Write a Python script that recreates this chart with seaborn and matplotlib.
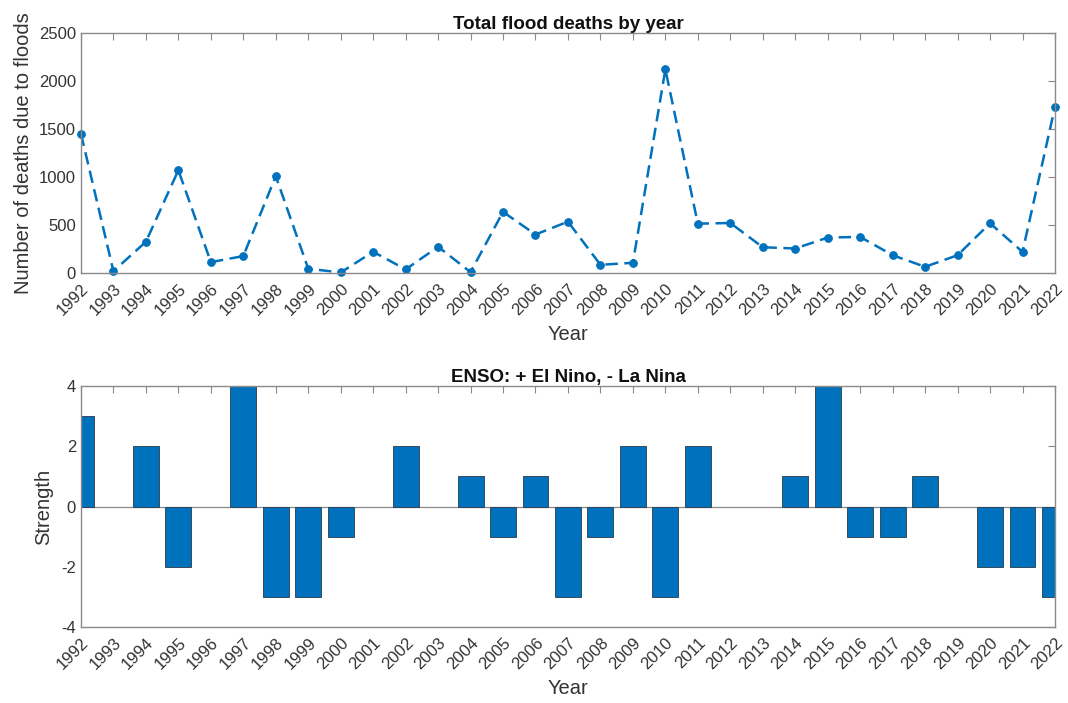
import numpy as np
import pandas as pd
import matplotlib
matplotlib.use('Agg')
import matplotlib.pyplot as plt
import seaborn as sns

YEARS = list(range(1992, 2023))

DEATHS = [1450, 17, 323, 1069, 111, 174, 1007, 42, 3, 219, 35, 271, 7, 635, 399,
          533, 83, 104, 2121, 512, 519, 266, 253, 367, 374, 183, 62, 183, 516, 218, 1730]

ENSO = [3, 0, 2, -2, 0, 4, -3, -3, -1, 0, 2, 0, 1, -1, 1,
        -3, -1, 2, -3, 2, 0, 0, 1, 4, -1, -1, 1, 0, -2, -2, -3]

BLUE = '#0072BD'
AXCOL = '#8a8a8a'
TXT = '#333333'

sns.set_style('white')
plt.rcParams['font.family'] = ['Liberation Sans', 'DejaVu Sans']
plt.rcParams['axes.unicode_minus'] = False

df = pd.DataFrame({'Year': YEARS, 'Deaths': DEATHS, 'ENSO': ENSO})


def style_axes(ax):
    for s in ax.spines.values():
        s.set_color(AXCOL)
        s.set_linewidth(1.0)
    ax.tick_params(direction='in', top=True, right=True, length=5, width=0.8,
                   color=AXCOL, labelcolor=TXT, labelsize=12)
    ax.tick_params(axis='x', pad=6)
    ax.set_xticks(YEARS)
    ax.set_xticklabels([str(y) for y in YEARS], rotation=45, ha='right',
                       rotation_mode='anchor')
    ax.set_xlim(1992, 2022)


fig = plt.figure(figsize=(10.68, 7.03), dpi=100)
ax1 = fig.add_axes([0.0758, 0.612, 0.912, 0.341])
ax2 = fig.add_axes([0.0758, 0.108, 0.912, 0.343])

sns.lineplot(data=df, x='Year', y='Deaths', ax=ax1, color=BLUE, linestyle='--',
             linewidth=1.8, marker='o', markersize=5.5, markeredgecolor=BLUE)
ax1.lines[0].set_dashes([5, 2.6])
ax1.lines[0].set_clip_on(False)
style_axes(ax1)
ax1.set_ylim(0, 2500)
ax1.set_yticks([0, 500, 1000, 1500, 2000, 2500])
ax1.set_title('Total flood deaths by year', fontsize=13.5, fontweight='bold', color='#111111', pad=3)
ax1.set_xlabel('Year', fontsize=14.5, color=TXT, labelpad=5)
ax1.set_ylabel('Number of deaths due to floods', fontsize=14.5, color=TXT, labelpad=4)

sns.barplot(data=df, x='Year', y='ENSO', ax=ax2, native_scale=True, color=BLUE,
            saturation=1, width=0.8, edgecolor='#2b3a47', linewidth=0.6)
for p in ax2.patches:
    if p.get_height() == 0:
        p.set_linewidth(0)
ax2.axhline(0, color=AXCOL, linewidth=0.9, zorder=0.5)
style_axes(ax2)
ax2.set_ylim(-4, 4)
ax2.set_yticks([-4, -2, 0, 2, 4])
ax2.set_title('ENSO: + El Nino, - La Nina', fontsize=13.5, fontweight='bold', color='#111111', pad=3)
ax2.set_xlabel('Year', fontsize=14.5, color=TXT, labelpad=5)
ax2.set_ylabel('Strength', fontsize=14.5, color=TXT, labelpad=6)

fig.savefig('out.png', dpi=100)
